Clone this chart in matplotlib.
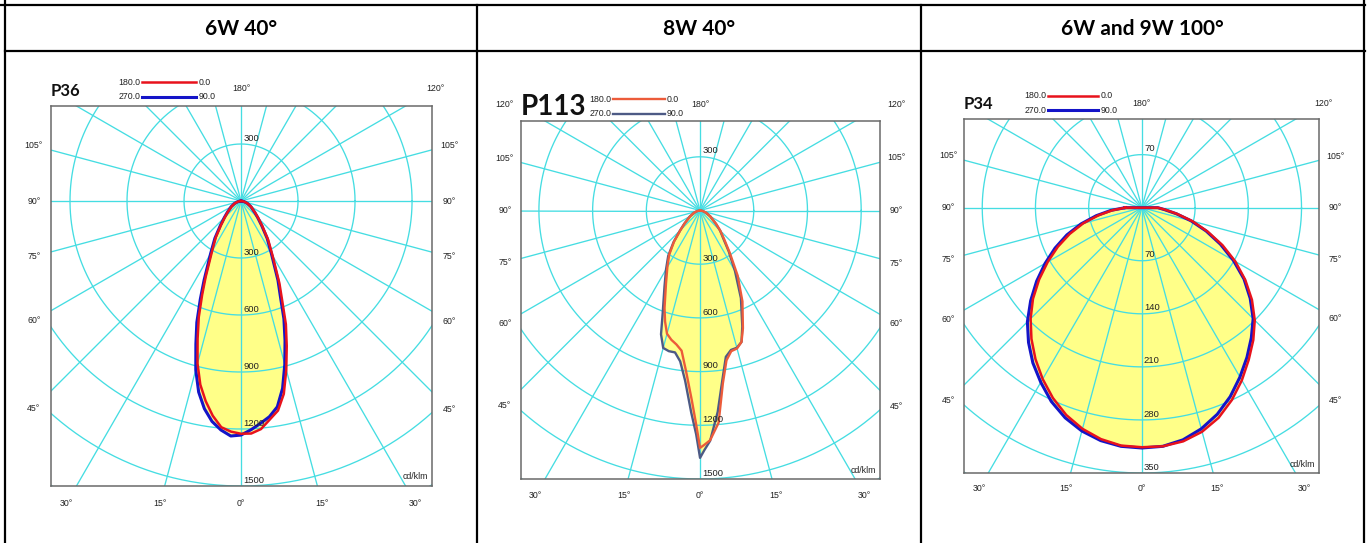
import numpy as np
import matplotlib
matplotlib.use("Agg")
from matplotlib import pyplot as plt

# gamma angles (deg from nadir) and intensities in cd/klm
ang_p36 = [0, 2.5, 5, 7.5, 10, 12.5, 15, 17.5, 20, 22.5, 25, 30, 35, 40, 45, 50, 60, 70, 80, 90]
p36_c180 = [1225, 1215, 1195, 1140, 1070, 990, 885, 760, 650, 535, 440, 305, 230, 163, 120, 92, 58, 34, 15, 0]
p36_c0 = [1225, 1225, 1205, 1160, 1120, 1040, 920, 800, 690, 565, 478, 332, 248, 176, 130, 98, 62, 36, 15, 0]
p36_c270 = [1232, 1238, 1210, 1170, 1110, 1030, 920, 790, 680, 560, 460, 320, 240, 170, 125, 95, 60, 35, 15, 0]
p36_c90 = [1232, 1205, 1175, 1145, 1100, 1010, 890, 770, 660, 540, 460, 320, 240, 170, 125, 95, 60, 35, 15, 0]

ang_p113 = [0, 1, 2.5, 5, 7.5, 10, 12.5, 15, 17.5, 20, 25, 30, 35, 40, 45, 50, 60, 70, 80, 90]
p113_c180 = [1326, 1200, 1060, 900, 790, 760, 740, 713, 650, 580, 450, 365, 300, 225, 155, 112, 63, 34, 15, 0]
p113_c0 = [1326, 1310, 1285, 1190, 975, 850, 805, 798, 770, 700, 560, 420, 290, 210, 160, 118, 67, 36, 15, 0]
p113_c270 = [1382, 1250, 1130, 955, 850, 805, 805, 795, 725, 610, 470, 380, 310, 230, 158, 115, 65, 35, 15, 0]
p113_c90 = [1382, 1340, 1288, 1130, 955, 830, 798, 794, 770, 690, 540, 390, 280, 200, 158, 115, 65, 35, 15, 0]

ang_p34 = [0, 5, 10, 15, 20, 25, 30, 35, 40, 45, 50, 55, 60, 65, 70, 75, 80, 85, 90]
p34_c180 = [316, 315, 310, 302, 291, 277, 261, 244, 226, 207, 187, 165, 143, 122, 101, 80, 58, 39, 22]
p34_c0 = [316, 316, 313, 306, 295, 280, 263, 245, 228, 210, 189, 166, 142, 117, 92, 69, 47, 31, 21]
p34_c270 = [317, 316, 312, 305, 295, 282, 266, 250, 232, 213, 191, 169, 147, 126, 105, 83, 61, 41, 22]
p34_c90 = [317, 316, 311, 302, 290, 275, 258, 241, 224, 207, 186, 164, 139, 114, 90, 67, 46, 30, 21]

headers = ["6W 40°", "8W 40°", "6W and 9W 100°"]
rings_big = [300, 600, 900, 1200, 1500, 1800]
rings_small = [70, 140, 210, 280, 350, 420]
side_angles = [45, 60, 75, 90, 105]
bottom_angles = [-30, -15, 0, 15, 30]

CYAN = "#45DDE2"
YELLOW = "#FFFF88"
SMALL = dict(fontsize=6.3, family="Liberation Sans", color="#222222")
RING = dict(fontsize=6.8, family="Liberation Sans", color="#222222")


def curve_xy(ang, left, right):
    a = np.radians(np.concatenate([-np.array(ang)[::-1], np.array(ang)[1:]]))
    r = np.concatenate([np.array(left)[::-1], np.array(right)[1:]])
    x = r * np.sin(a)
    y = -r * np.cos(a)
    return np.append(x, x[0]), np.append(y, y[0])


def label_frame(ax):
    x0, x1 = ax.get_xlim()
    y0, y1 = ax.get_ylim()
    mx = 0.045 * (x1 - x0)
    my = 0.045 * (y1 - y0)
    return x0 - mx, x1 + mx, y0 - my, y1 + my


def edge_point(ax, g):
    L, Rt, B, T = label_frame(ax)
    s, c = np.sin(np.radians(g)), np.cos(np.radians(g))
    ts = []
    if abs(s) > 1e-9:
        ts.append((Rt if s > 0 else L) / s)
    if abs(c) > 1e-9:
        ts.append(B / -c if c > 0 else T / -c)
    t = min(ts)
    return t * s, -t * c


def draw_panel(ax, ang, c180, c0, c270, c90, rings, xlim, ylim, cols, lws,
               name, name_size, name_y, leg, corner120=False):
    ax.set_xlim(*xlim)
    ax.set_ylim(*ylim)
    ax.set_xticks([])
    ax.set_yticks([])
    for sp in ax.spines.values():
        sp.set_color("#6a6a6a")
        sp.set_linewidth(1.1)

    xa, ya = curve_xy(ang, c180, c0)
    xb, yb = curve_xy(ang, c270, c90)
    ax.fill(xa, ya, color=YELLOW, lw=0, zorder=1)
    ax.fill(xb, yb, color=YELLOW, lw=0, zorder=1)

    # polar grid
    R = rings[-1] * 1.3
    for th in np.radians(np.arange(0, 360, 15)):
        ax.plot([0, R * np.sin(th)], [0, -R * np.cos(th)], color=CYAN, lw=0.95, zorder=2)
    phi = np.linspace(0, 2 * np.pi, 400)
    for r in rings:
        ax.plot(r * np.cos(phi), r * np.sin(phi), color=CYAN, lw=0.95, zorder=2)

    ax.plot(xa, ya, color=cols[0], lw=lws[0], zorder=4)
    ax.plot(xb, yb, color=cols[1], lw=lws[1], zorder=3)

    # ring values
    ax.annotate(str(rings[0]), (0, rings[0]), xytext=(1.5, 1), textcoords="offset points",
                ha="left", va="bottom", zorder=5, **RING)
    for r in rings:
        if r <= -ylim[0] + 1:
            ax.annotate(str(r), (0, -r), xytext=(1.5, 1), textcoords="offset points",
                        ha="left", va="bottom", zorder=5, **RING)
    ax.text(0.99, 0.012, "cd/klm", transform=ax.transAxes, ha="right", va="bottom", **SMALL)

    # angle labels round the frame
    labels = [(g, abs(g)) for g in bottom_angles]
    for g in side_angles:
        labels += [(g, g), (-g, g)]
    labels.append((180, 180))
    for g, txt in labels:
        x, y = edge_point(ax, g)
        ax.text(x, y, f"{txt}°", ha="center", va="center", clip_on=False, **SMALL)
    L, Rt, B, T = label_frame(ax)
    if corner120:
        ax.text(L, T, "120°", ha="center", va="center", clip_on=False, **SMALL)
        ax.text(Rt, T, "120°", ha="center", va="center", clip_on=False, **SMALL)
    else:
        x, y = edge_point(ax, 120)
        ax.text(x, y, "120°", ha="center", va="center", clip_on=False, **SMALL)

    # legend
    lx0, lx1, ly1, ly2 = leg
    for yy, l, rr, col, lw in [(ly1, "180.0", "0.0", cols[0], lws[0]),
                               (ly2, "270.0", "90.0", cols[1], lws[1])]:
        ax.plot([lx0, lx1], [yy, yy], transform=ax.transAxes, color=col, lw=lw, clip_on=False)
        ax.text(lx0 - 0.004, yy, l, transform=ax.transAxes, ha="right", va="center", **SMALL)
        ax.text(lx1 + 0.006, yy, rr, transform=ax.transAxes, ha="left", va="center", **SMALL)

    ax.text(0.0, name_y, name, transform=ax.transAxes, ha="left", va="center",
            fontsize=name_size, fontweight="bold", family="Lato", color="#111111")


W, H = 1368, 543
fig = plt.figure(figsize=(W / 100, H / 100), dpi=100)

bg = fig.add_axes([0, 0, 1, 1], zorder=0)
bg.set_xlim(0, W)
bg.set_ylim(H, 0)
bg.axis("off")
bg.plot([0, 1365], [5, 5], color="black", lw=1.6)
bg.plot([5, 1365], [51, 51], color="black", lw=1.6)
bg.plot([5, 5], [0, H], color="black", lw=1.6)
for xv in [477, 921]:
    bg.plot([xv, xv], [5, H], color="black", lw=1.6)
bg.plot([1364, 1364], [0, H], color="black", lw=1.6)
for xc, txt in zip([241, 699, 1142], headers):
    bg.text(xc, 29, txt, ha="center", va="center", fontsize=15, fontweight="bold",
            family="Lato", color="black")


def box(x0, y0, x1, y1):
    return [x0 / W, (H - y1) / H, (x1 - x0) / W, (y1 - y0) / H]


ax1 = fig.add_axes(box(51, 106, 432, 486), zorder=2)
draw_panel(ax1, ang_p36, p36_c180, p36_c0, p36_c270, p36_c90, rings_big,
           (-1000, 1005), (-1500, 500), ["#E8121C", "#1414C8"], [1.8, 2.2],
           "P36", 12, 1.04, (0.239, 0.381, 1.063, 1.024))

ax2 = fig.add_axes(box(521, 121, 880, 479), zorder=2)
draw_panel(ax2, ang_p113, p113_c180, p113_c0, p113_c270, p113_c90, rings_big,
           (-1000, 1005), (-1500, 500), ["#EC5B3A", "#4D5A85"], [1.7, 1.7],
           "P113", 20, 1.039, (0.256, 0.401, 1.061, 1.020), corner120=True)

ax3 = fig.add_axes(box(964, 119, 1319, 473), zorder=2)
draw_panel(ax3, ang_p34, p34_c180, p34_c0, p34_c270, p34_c90, rings_small,
           (-234, 233), (-350, 117), ["#E8121C", "#1414C8"], [1.8, 2.2],
           "P34", 12, 1.042, (0.237, 0.378, 1.065, 1.025))

fig.savefig("out.png", dpi=100)
